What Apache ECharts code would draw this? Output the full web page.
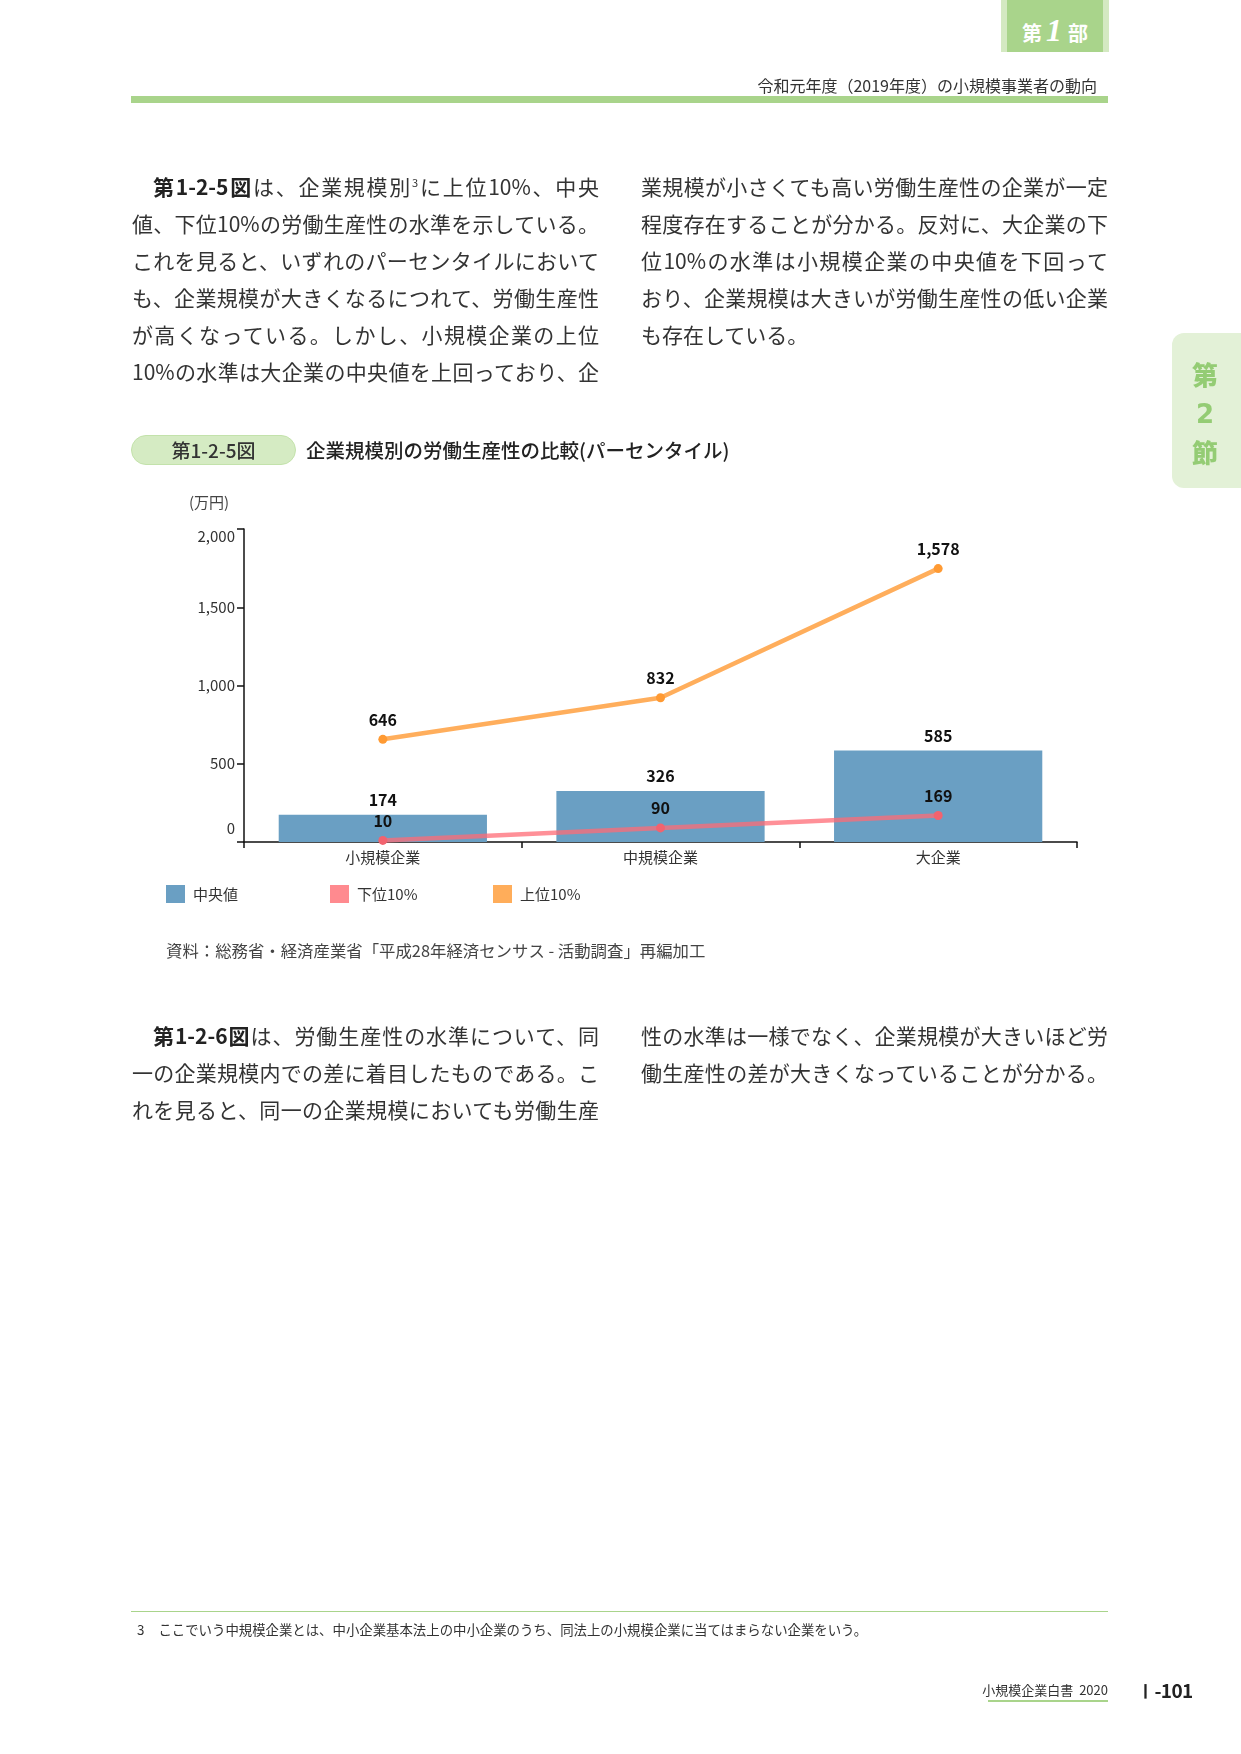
<!DOCTYPE html>
<html lang="ja">
<head>
<meta charset="utf-8">
<script src="https://cdn.jsdelivr.net/npm/echarts@6/dist/echarts.min.js"></script>
<style>
  html, body { margin: 0; padding: 0; background: #fff; }
  body { width: 1241px; height: 1754px; position: relative; overflow: hidden;
         font-family: "Noto Sans CJK JP", "Noto Sans", sans-serif; color: #333; }
  #chart { position: absolute; left: 0; top: 0; width: 1241px; height: 1754px; }
  .abs { position: absolute; white-space: nowrap; }
  .line { position: absolute; width: 467px; height: 37px; line-height: 37px; font-size: 21px;
          color: #333; text-align: justify; text-align-last: justify; white-space: nowrap; }
  .line.last { text-align-last: left; }
  .line.indent { padding-left: 21px; width: 446px; }
  .b { font-weight: 700; color: #222; }
  sup { font-size: 11px; vertical-align: 8px; line-height: 0; }
</style>
</head>
<body>
<div id="chart"></div>

<!-- header -->
<div class="abs" style="left:1001px;top:0;width:108px;height:52px;background:#d4e9c2;"></div>
<div class="abs" style="left:1007px;top:0;width:96px;height:52px;background:#a9d48b;"></div>
<div class="abs" style="left:1007px;top:8px;width:96px;height:44px;line-height:44px;text-align:center;color:#fff;font-weight:700;">
  <span style="font-size:20px;">第</span><span style="font-family:'Liberation Serif',serif;font-style:italic;font-weight:700;font-size:32px;margin:0 6px 0 4px;">1</span><span style="font-size:20px;">部</span>
</div>
<div class="abs" style="right:144px;top:74px;font-size:16px;line-height:22px;color:#333;">令和元年度（2019年度）の小規模事業者の動向</div>
<div class="abs" style="left:131px;top:96px;width:977px;height:7px;background:#a9d48b;"></div>

<!-- side tab -->
<div class="abs" style="left:1172px;top:333px;width:69px;height:155px;border-radius:12px 0 0 12px;background:#e3f1d7;"></div>
<div class="abs" style="left:1172px;top:355px;width:66px;text-align:center;color:#94cc74;font-weight:900;font-size:26px;line-height:38px;">第<br><span style="font-family:'DejaVu Sans',sans-serif;font-weight:700;">2</span><br>節</div>

<!-- top paragraph, left column -->
<div class="line indent" style="left:132px;top:168px;"><span class="b">第1-2-5図</span>は、企業規模別<sup>3</sup>に上位10%、中央</div>
<div class="line" style="left:132px;top:205px;">値、下位10%の労働生産性の水準を示している。</div>
<div class="line" style="left:132px;top:242px;">これを見ると、いずれのパーセンタイルにおいて</div>
<div class="line" style="left:132px;top:279px;">も、企業規模が大きくなるにつれて、労働生産性</div>
<div class="line" style="left:132px;top:316px;">が高くなっている。しかし、小規模企業の上位</div>
<div class="line" style="left:132px;top:353px;">10%の水準は大企業の中央値を上回っており、企</div>
<!-- right column -->
<div class="line" style="left:641px;top:168px;">業規模が小さくても高い労働生産性の企業が一定</div>
<div class="line" style="left:641px;top:205px;">程度存在することが分かる。反対に、大企業の下</div>
<div class="line" style="left:641px;top:242px;">位10%の水準は小規模企業の中央値を下回って</div>
<div class="line" style="left:641px;top:279px;">おり、企業規模は大きいが労働生産性の低い企業</div>
<div class="line last" style="left:641px;top:316px;">も存在している。</div>

<!-- figure title -->
<div class="abs" style="left:131px;top:435px;width:163px;height:28px;border:1px solid #c3e2ab;border-radius:15px;background:#d5ebc3;text-align:center;line-height:28px;font-size:19px;font-weight:500;color:#333;">第1-2-5図</div>
<div class="abs" style="left:306px;top:437px;font-size:19.5px;line-height:26px;font-weight:500;color:#222;">企業規模別の労働生産性の比較(パーセンタイル)</div>

<!-- bottom paragraph -->
<div class="line indent" style="left:132px;top:1017px;"><span class="b">第1-2-6図</span>は、労働生産性の水準について、同</div>
<div class="line" style="left:132px;top:1054px;">一の企業規模内での差に着目したものである。こ</div>
<div class="line" style="left:132px;top:1091px;">れを見ると、同一の企業規模においても労働生産</div>
<div class="line" style="left:641px;top:1017px;">性の水準は一様でなく、企業規模が大きいほど労</div>
<div class="line" style="left:641px;top:1054px;">働生産性の差が大きくなっていることが分かる。</div>

<!-- footnote -->
<div class="abs" style="left:131px;top:1611px;width:977px;height:1px;background:#a9d48b;"></div>
<div class="abs" style="left:137px;top:1620px;font-size:13.4px;line-height:18px;color:#333;">3<span style="display:inline-block;width:14px;"></span>ここでいう中規模企業とは、中小企業基本法上の中小企業のうち、同法上の小規模企業に当てはまらない企業をいう。</div>

<!-- page footer -->
<div class="abs" style="right:133px;top:1681px;font-size:13px;line-height:18px;color:#333;">小規模企業白書&nbsp;&nbsp;2020</div>
<div class="abs" style="left:988px;top:1700px;width:120px;height:2px;background:#a9d48b;"></div>
<div class="abs" style="left:1136px;top:1677px;font-size:19px;line-height:26px;font-weight:700;color:#222;letter-spacing:-0.6px;"><span style="font-family:'Liberation Serif',serif;">Ⅰ</span>-101</div>

<script>
// ---- data ----
const categories = ['小規模企業', '中規模企業', '大企業'];
const medianValues = [174, 326, 585];      // 中央値 (bar)
const bottom10Values = [10, 90, 169];      // 下位10%
const top10Values = [646, 832, 1578];      // 上位10% (stacked on 下位10% as in original)
const yMin = 0, yMax = 2000, yInterval = 500;
const seriesNames = ['中央値', '下位10%', '上位10%'];
const unitLabel = '(万円)';
const sourceNote = '資料：総務省・経済産業省「平成28年経済センサス - 活動調査」再編加工';

const FONT = '"Noto Sans CJK JP", "Noto Sans", sans-serif';
const BAR_COLOR = '#6a9fc3';
const PINK = '#ff6b76';
const PINK_DOT = '#f2636f';
const ORANGE = '#ff9a33';

const fmt = v => Number(v).toLocaleString('en-US');
const labelStyle = { show: true, position: 'top', fontFamily: FONT, fontWeight: 'bold', fontSize: 16, color: '#111', formatter: p => fmt(p.value) };

const chart = echarts.init(document.getElementById('chart'), null, { renderer: 'canvas' });

const legendBase = {
  icon: 'rect', itemWidth: 19, itemHeight: 18, padding: 0, selectedMode: false, top: 885,
  textStyle: { fontFamily: FONT, fontSize: 15, color: '#333', padding: [0, 0, 0, 3] }
};

chart.setOption({
  animation: false,
  backgroundColor: 'transparent',
  grid: { left: 244, top: 529, width: 833, height: 313, containLabel: false },
  xAxis: {
    type: 'category', data: categories, boundaryGap: true,
    axisLine: { show: true, lineStyle: { color: '#111', width: 1.5 } },
    axisTick: { show: true, length: 6, lineStyle: { color: '#111', width: 1.5 } },
    axisLabel: { margin: 8, fontFamily: FONT, fontSize: 15, color: '#333' },
    splitLine: { show: false }
  },
  yAxis: {
    type: 'value', min: yMin, max: yMax, interval: yInterval,
    axisLine: { show: true, lineStyle: { color: '#111', width: 1.5 } },
    axisTick: { show: true, length: 7, lineStyle: { color: '#111', width: 1.5 } },
    axisLabel: { margin: 9, fontFamily: FONT, fontSize: 15, color: '#333',
                 formatter: v => (v === yMin ? '{z|' + fmt(v) + '}' : fmt(v)),
                 rich: { z: { fontFamily: FONT, fontSize: 15, color: '#333', padding: [0, 0, 6, 0] } },
                 verticalAlignMinLabel: 'bottom', verticalAlignMaxLabel: 'top' },
    splitLine: { show: false }
  },
  legend: [
    Object.assign({}, legendBase, { left: 166, data: [{ name: seriesNames[0], itemStyle: { color: BAR_COLOR } }] }),
    Object.assign({}, legendBase, { left: 330, data: [{ name: seriesNames[1], itemStyle: { color: '#ff8a8f', opacity: 1 } }] }),
    Object.assign({}, legendBase, { left: 493, data: [{ name: seriesNames[2], itemStyle: { color: '#ffad5a', opacity: 1 } }] })
  ],
  graphic: [
    { type: 'text', left: 189, top: 495, style: { text: unitLabel, font: '15px ' + FONT, fill: '#444' } },
    { type: 'text', left: 166, top: 943, style: { text: sourceNote, font: '16.4px ' + FONT, fill: '#444' } }
  ],
  series: [
    {
      name: seriesNames[0], type: 'bar', data: medianValues, barWidth: '75%', z: 2,
      itemStyle: { color: BAR_COLOR },
      label: Object.assign({}, labelStyle, { distance: 7 })
    },
    {
      name: seriesNames[1], type: 'line', stack: 'pct', data: bottom10Values, z: 3,
      symbol: 'circle', symbolSize: 9, showSymbol: true,
      lineStyle: { color: PINK, width: 4.5, opacity: 0.75 },
      itemStyle: { color: PINK_DOT },
      label: Object.assign({}, labelStyle, { distance: 7 })
    },
    {
      name: seriesNames[2], type: 'line', stack: 'pct', data: top10Values, z: 4,
      symbol: 'circle', symbolSize: 9, showSymbol: true,
      lineStyle: { color: ORANGE, width: 4.5, opacity: 0.8 },
      itemStyle: { color: ORANGE },
      label: Object.assign({}, labelStyle, { distance: 7 })
    }
  ]
});
</script>
</body>
</html>
